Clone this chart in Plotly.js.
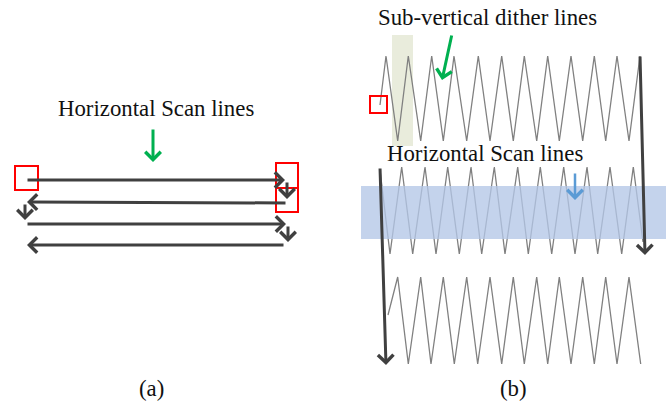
<!DOCTYPE html>
<html><head><meta charset="utf-8">
<script src="https://cdn.plot.ly/plotly-3.0.1.min.js"></script>
<style>html,body{margin:0;padding:0;background:#fff}#chart{width:667px;height:402px}</style>
</head><body><div id="chart"></div>
<script>
// ---- Panel (a): horizontal scan line arrows [x0, y0, x1, y1]
const scanArrowsA = [
  [26, 180, 285, 180],
  [287, 181, 287, 199],
  [287, 203, 27, 202],
  [25, 203, 25, 220],
  [26, 224, 286, 224],
  [288, 225, 288, 242],
  [285, 245, 27, 245]
];
// ---- Panel (b): sub-vertical dither zigzags
const row1X = [380, 386, 397.7, 408.3, 420.7, 431.7, 443.3, 454, 466.7, 478.3, 490, 501.7, 513.3, 524.3, 536.7, 547.7, 559.3, 571, 582.7, 594.3, 605.7, 617, 629, 640];
const row1Y = [105, 56, 141, 56, 141, 56, 141, 56, 141, 56, 141, 56, 141, 56, 141, 56, 141, 56, 141, 56, 141, 56, 141, 56];
const row2X = [380, 390, 401.7, 412.7, 425, 436, 447.7, 459.3, 471, 481.7, 494.3, 505, 517.7, 528.3, 540.3, 551.7, 563.7, 575, 587, 597.7, 610, 621.7, 633.3, 643];
const row2Y = [170, 254, 167, 254, 167, 254, 167, 254, 167, 254, 167, 254, 167, 254, 167, 254, 167, 254, 167, 254, 167, 254, 167, 242];
const row3X = [388, 397.7, 408.3, 420.7, 431, 443.3, 454.3, 466.7, 477.7, 490, 501.7, 513.3, 524.3, 536.7, 547.7, 559.3, 571, 582.7, 594.3, 605.7, 617, 629, 640.7];
const row3Y = [315, 277, 364, 277, 364, 277, 364, 277, 364, 277, 364, 277, 364, 277, 364, 277, 364, 277, 364, 277, 364, 277, 364];
// dark vertical scan arrows in (b) [x0, y0, x1, y1]
const scanArrowsB = [
  [640, 55, 645, 255],
  [380, 167, 386, 365]
];
// pointer arrows [x0, y0, x1, y1]
const greenArrows = [[153, 128, 153, 162], [452, 34, 442, 80]];
const blueArrows = [[575, 172, 575, 200]];
// highlight boxes [x0, y0, x1, y1]
const redBoxes = [[15, 166, 38, 190], [276, 163, 298, 188], [276, 188, 298, 212], [370, 96, 387, 113]];
const beigeBand = [392, 35, 413, 146];
const blueBand = [361, 186, 666, 239];
// labels [text, x, y]
const labels = [
  ["Horizontal Scan lines", 156, 108],
  ["Sub-vertical dither lines", 487, 17],
  ["Horizontal Scan lines", 485, 153],
  ["(a)", 151, 388],
  ["(b)", 513, 388]
];

const DARK = '#404040';
const traces = [row1X, row2X, row3X].map((xs, i) => ({
  x: xs, y: [row1Y, row2Y, row3Y][i], type: 'scatter', mode: 'lines',
  line: {color: '#808080', width: 1.3}, hoverinfo: 'skip', showlegend: false
}));

function arrow(a, color, width, size) {
  return {x: a[2], y: a[3], ax: a[0], ay: a[1], xref: 'x', yref: 'y', axref: 'x', ayref: 'y',
    showarrow: true, arrowhead: 4, arrowsize: size, arrowwidth: width, arrowcolor: color,
    standoff: 0, startstandoff: 0, text: ''};
}
const annotations = [];
scanArrowsA.forEach(a => annotations.push(arrow(a, DARK, 3, 1.0)));
scanArrowsB.forEach(a => annotations.push(arrow(a, DARK, 3, 1.0)));
greenArrows.forEach(a => annotations.push(arrow(a, '#00b050', 3, 1.0)));
blueArrows.forEach(a => annotations.push(arrow(a, '#5b9bd5', 2.5, 1.2)));
labels.forEach(l => annotations.push({text: l[0], x: l[1], y: l[2], xref: 'x', yref: 'y',
  showarrow: false, xanchor: 'center', yanchor: 'middle',
  font: {family: 'Liberation Serif, Times New Roman, serif', size: 22.8, color: '#111'}}));

const shapes = [];
shapes.push({type: 'rect', x0: beigeBand[0], y0: beigeBand[1], x1: beigeBand[2], y1: beigeBand[3],
  xref: 'x', yref: 'y', fillcolor: '#e9ecdc', line: {width: 0}, layer: 'below'});
shapes.push({type: 'rect', x0: blueBand[0], y0: blueBand[1], x1: blueBand[2], y1: blueBand[3],
  xref: 'x', yref: 'y', fillcolor: 'rgba(180,199,231,0.78)', line: {width: 0}, layer: 'above'});
redBoxes.forEach(b => shapes.push({type: 'rect', x0: b[0], y0: b[1], x1: b[2], y1: b[3],
  xref: 'x', yref: 'y', line: {color: '#ff0000', width: 2}, fillcolor: 'rgba(0,0,0,0)', layer: 'above'}));

const layout = {
  width: 667, height: 402, margin: {l: 0, r: 0, t: 0, b: 0},
  paper_bgcolor: '#fff', plot_bgcolor: '#fff', showlegend: false,
  xaxis: {range: [0, 667], visible: false, fixedrange: true},
  yaxis: {range: [402, 0], visible: false, fixedrange: true},
  annotations: annotations, shapes: shapes
};
Plotly.newPlot('chart', traces, layout, {displayModeBar: false, staticPlot: true});
</script></body></html>
